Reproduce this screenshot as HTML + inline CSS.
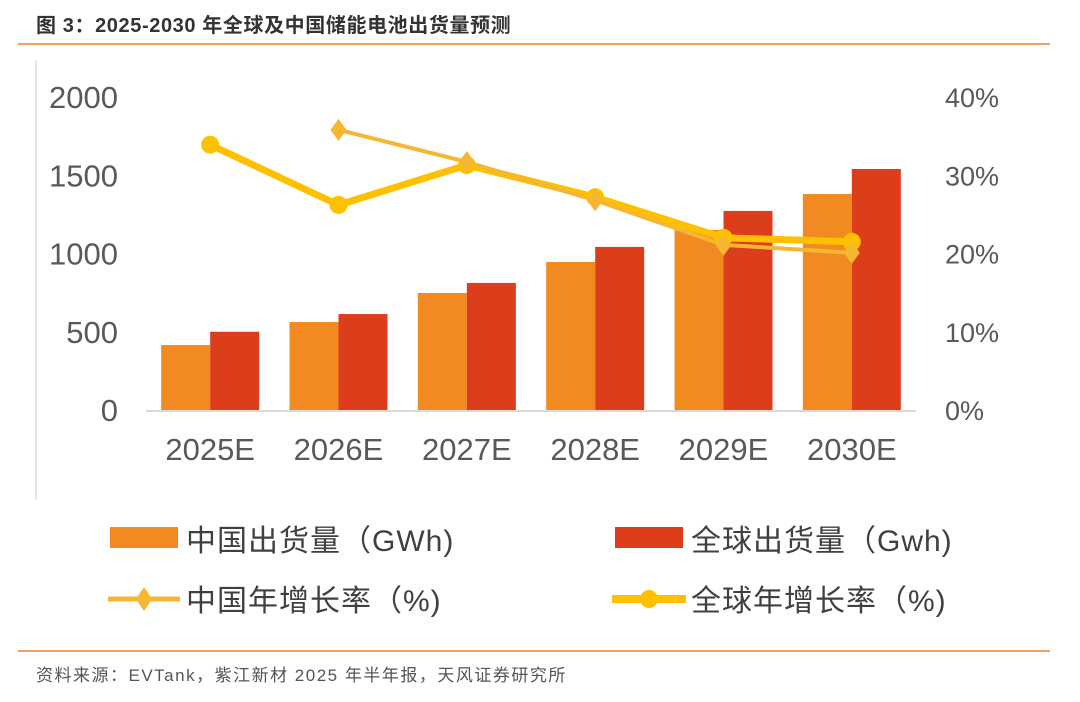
<!DOCTYPE html>
<html><head><meta charset="utf-8"><style>
body{margin:0;background:#fff}
svg{display:block;font-family:"Liberation Sans","Noto Sans CJK SC",sans-serif}
</style></head><body>
<svg id="chart" width="1080" height="702" viewBox="0 0 1080 702">
<text x="36" y="32" font-size="20" font-weight="bold" fill="#333" letter-spacing="0.6">图 3：2025-2030 年全球及中国储能电池出货量预测</text>
<line x1="18" y1="44" x2="1050" y2="44" stroke="#EFA35E" stroke-width="2"/>
<line x1="36" y1="60" x2="36" y2="500" stroke="#ccc" stroke-width="1"/>
<g id="axes"></g>
<g id="bars"></g>
<g id="lines"></g>
<g>
<rect x="110" y="527" width="68" height="21" fill="#F28A22"/>
<text x="186" y="551" font-size="30" fill="#404040" letter-spacing="1">中国出货量（GWh)</text>
<rect x="615" y="527" width="68" height="21" fill="#DC3D1A"/>
<text x="691" y="551" font-size="30" fill="#404040" letter-spacing="1">全球出货量（Gwh)</text>
<line x1="108" y1="599" x2="180" y2="599" stroke="#F5B731" stroke-width="5"/>
<path d="M144 587 L152 599 L144 611 L136 599 Z" fill="#F5B731"/>
<text x="186" y="611" font-size="30" fill="#404040" letter-spacing="1">中国年增长率（%)</text>
<line x1="612" y1="599" x2="686" y2="599" stroke="#FFC000" stroke-width="8"/>
<circle cx="649" cy="599" r="9" fill="#FFC000"/>
<text x="691" y="611" font-size="30" fill="#404040" letter-spacing="1">全球年增长率（%)</text>
</g>
<line x1="18" y1="651" x2="1050" y2="651" stroke="#EFA35E" stroke-width="2"/>
<text x="36" y="681" font-size="17" fill="#555" letter-spacing="1.5">资料来源：EVTank，紫江新材 2025 年半年报，天风证券研究所</text>
</svg>
<script>
const categories = ["2025E","2026E","2027E","2028E","2029E","2030E"];
const chinaShipment = [415,562,748,946,1150,1380];
const globalShipment = [500,613,812,1042,1272,1540];
const chinaGrowth = [null,35.8,31.7,26.8,21.1,20.1];
const globalGrowth = [33.9,26.2,31.3,27.2,22.0,21.5];
const leftTicks = [0,500,1000,1500,2000];
const rightTicks = [0,10,20,30,40];

const NS="http://www.w3.org/2000/svg";
const x0=146, x1=916, y0=410, yTop=97;
const step=(x1-x0)/categories.length;
const yL=v=>y0-(v/2000)*(y0-yTop);
const yR=v=>y0-(v/40)*(y0-yTop);
const cx=i=>x0+step*(i+0.5);
const bw=49;
function mk(tag,attrs,parent){const e=document.createElementNS(NS,tag);for(const k in attrs)e.setAttribute(k,attrs[k]);parent.appendChild(e);return e;}
const axes=document.getElementById('axes'),bars=document.getElementById('bars'),lines=document.getElementById('lines');
leftTicks.forEach(t=>{const e=mk('text',{x:118,y:yL(t)+11,'font-size':31,fill:'#595959','text-anchor':'end'},axes);e.textContent=t;

});
rightTicks.forEach(t=>{const e=mk('text',{x:945,y:yR(t)+10,'font-size':27,fill:'#595959'},axes);e.textContent=t+'%';

});
categories.forEach((c,i)=>{const e=mk('text',{x:cx(i),y:460,'font-size':31,fill:'#595959','text-anchor':'middle'},axes);e.textContent=c;

});
chinaShipment.forEach((v,i)=>{const r=mk('rect',{x:cx(i)-bw,y:yL(v),width:bw,height:y0-yL(v),fill:'#F28A22'},bars);

});
globalShipment.forEach((v,i)=>{const r=mk('rect',{x:cx(i),y:yL(v),width:bw,height:y0-yL(v),fill:'#DC3D1A'},bars);

});
const base=mk('line',{x1:x0,y1:y0+1,x2:x1,y2:y0+1,stroke:'#d9d9d9','stroke-width':2},axes);


function pts(arr){return arr.map((v,i)=>v==null?null:[cx(i),yR(v)]).filter(p=>p);}
const gp=pts(globalGrowth);
const gl=mk('polyline',{points:gp.map(p=>p.join(',')).join(' '),fill:'none',stroke:'#FFC000','stroke-width':7,'stroke-linejoin':'round'},lines);


const cp=pts(chinaGrowth);
const cl=mk('polyline',{points:cp.map(p=>p.join(',')).join(' '),fill:'none',stroke:'#F5B731','stroke-width':4,'stroke-linejoin':'round'},lines);


gp.forEach(p=>{const c=mk('circle',{cx:p[0],cy:p[1],r:9,fill:'#FFC000'},lines);

});
cp.forEach(p=>{const d=mk('path',{d:`M${p[0]} ${p[1]-11} L${p[0]+8} ${p[1]} L${p[0]} ${p[1]+11} L${p[0]-8} ${p[1]} Z`,fill:'#F5B731'},lines);

});
</script>
</body></html>
